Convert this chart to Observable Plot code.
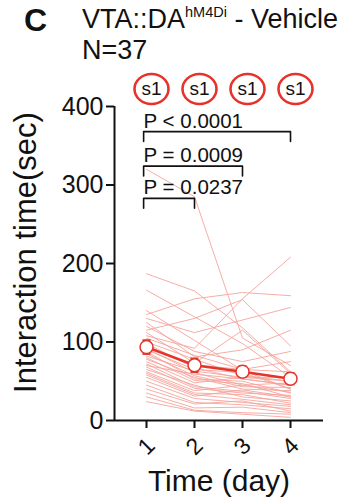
<!DOCTYPE html>
<html>
<head>
<meta charset="utf-8">
<script src="https://cdn.jsdelivr.net/npm/d3@7"></script>
<script src="https://cdn.jsdelivr.net/npm/@observablehq/plot@0.6"></script>
<style>
  html, body { margin: 0; padding: 0; background: #fff; }
  body { width: 348px; height: 501px; overflow: hidden; font-family: "Liberation Sans", Arial, Helvetica, sans-serif; color: #111; }
  #wrap { position: relative; width: 348px; height: 501px; }
  .t { position: absolute; white-space: nowrap; line-height: 1; }
  #panel { left: 24px; top: 4px; font-size: 32px; font-weight: bold; }
  #title { left: 82px; top: 6px; font-size: 27px; }
  #title sup { font-size: 14.5px; vertical-align: 0; position: relative; top: -11px; }
  #n { left: 82px; top: 37px; font-size: 27px; }
  #chart { position: absolute; left: 0; top: 0; }
</style>
</head>
<body>
<div id="wrap">
  <div id="chart"></div>
  <div class="t" id="panel">C</div>
  <div class="t" id="title">VTA::DA<sup>hM4Di</sup> - Vehicle</div>
  <div class="t" id="n">N=37</div>
</div>
<script>
// ---- data ----
const days = [1, 2, 3, 4];
const dayLabels = ["1", "2", "3", "4"];
const sessionLabels = ["s1", "s1", "s1", "s1"];
const day1 = [320,187,166,135,140,115,108,130,125,120,112,105,100,98,95,92,90,88,85,82,80,78,75,72,70,68,65,62,60,58,55,50,45,40,35,30,24];
const day2 = [285,165,132,155,102,130,92,112,81,88,73,83,78,67,71,61,65,53,57,63,51,55,48,43,59,41,45,38,35,33,31,28,23,21,16,13,12];
const day3 = [105,118,98,163,64,154,155,128,90,75,115,65,57,53,65,45,61,50,43,55,47,40,55,37,53,35,30,45,33,27,39,23,20,25,17,10,8];
const day4 = [70,62,55,159,40,95,208,144,115,88,60,75,50,45,62,48,40,35,42,55,30,38,50,28,45,32,25,36,22,20,30,18,15,12,10,8,4];
const comparisons = [[1, 4, "P < 0.0001"], [1, 3, "P = 0.0009"], [1, 2, "P = 0.0237"]];
const yTicks = [0, 100, 200, 300, 400];

// ---- build tables ----
const byDay = [day1, day2, day3, day4];
const table = day1.flatMap((_, i) => days.map((d, j) => ({id: i, day: d, value: byDay[j][i]})));
const stats = days.map((d, j) => {
  const v = byDay[j];
  const m = d3.mean(v);
  const se = d3.deviation(v) / Math.sqrt(v.length);
  return {day: d, mean: m, lo: m - se, hi: m + se};
});
const bracketLevels = [368, 324, 283];
const legLen = 12.5;
const bracketPts = comparisons.flatMap(([a, b, label], k) => {
  const y = bracketLevels[k], x1 = a - 0.06, x2 = b;
  return [
    {k, x: x1, y: y - legLen}, {k, x: x1, y}, {k, x: x2, y}, {k, x: x2, y: y - legLen}
  ];
});
const bracketText = comparisons.map(([a, b, label], k) => ({x: a - 0.06, y: bracketLevels[k], label}));

const RED = "#e5342a";
const ellipse = {
  draw(ctx) {
    const rx = 17, ry = 15, k = 0.5523;
    ctx.moveTo(rx, 0);
    ctx.bezierCurveTo(rx, ry * k, rx * k, ry, 0, ry);
    ctx.bezierCurveTo(-rx * k, ry, -rx, ry * k, -rx, 0);
    ctx.bezierCurveTo(-rx, -ry * k, -rx * k, -ry, 0, -ry);
    ctx.bezierCurveTo(rx * k, -ry, rx, -ry * k, rx, 0);
    ctx.closePath();
  }
};
const capSym = { draw(ctx) { ctx.moveTo(-4, 0); ctx.lineTo(4, 0); } };

const xDomain = [1/3, 4.6875];

const chart = Plot.plot({
  width: 348,
  height: 501,
  marginTop: 106,
  marginBottom: 81,
  marginLeft: 114,
  marginRight: 25,
  x: {domain: xDomain, axis: null},
  y: {domain: [0, 400], axis: null},
  style: {fontFamily: '"Liberation Sans", Arial, Helvetica, sans-serif', color: "#111", background: "transparent", overflow: "visible"},
  marks: [
    // individual subjects
    Plot.line(table, {x: "day", y: "value", z: "id", stroke: "#f5a49c", strokeWidth: 1, strokeOpacity: 0.9}),
    // axes
    Plot.ruleX([xDomain[0]], {y1: 0, y2: 400, strokeWidth: 2}),
    Plot.ruleY([0], {strokeWidth: 2}),
    Plot.axisY({ticks: yTicks, tickSize: 8, tickPadding: 3, fontSize: 25, strokeWidth: 2, label: null, tickFormat: d => String(d)}),
    Plot.axisX({ticks: days, tickSize: 8, strokeWidth: 2, label: null, tickFormat: () => ""}),
    Plot.text(days, {x: d => d, text: (d, i) => dayLabels[i], frameAnchor: "bottom", dy: 26, rotate: -45, fontSize: 23, lineAnchor: "middle", textAnchor: "middle"}),
    Plot.text(["Time (day)"], {frameAnchor: "bottom", dy: 70, lineAnchor: "bottom", textAnchor: "middle", fontSize: 30}),
    Plot.text(["Interaction time(sec)"], {frameAnchor: "left", dx: -88, dy: -11, rotate: -90, lineAnchor: "middle", textAnchor: "middle", fontSize: 31}),
    // mean ± SEM
    Plot.ruleX(stats, {x: "day", y1: "lo", y2: "hi", stroke: RED, strokeWidth: 2}),
    Plot.dot(stats, {x: "day", y: "lo", symbol: capSym, stroke: RED, strokeWidth: 2}),
    Plot.dot(stats, {x: "day", y: "hi", symbol: capSym, stroke: RED, strokeWidth: 2}),
    Plot.line(stats, {x: "day", y: "mean", stroke: RED, strokeWidth: 2.5}),
    Plot.dot(stats, {x: "day", y: "mean", r: 6.5, fill: "white", stroke: RED, strokeWidth: 1.5}),
    // significance brackets
    Plot.line(bracketPts, {x: "x", y: "y", z: "k", stroke: "#111", strokeWidth: 1.6}),
    Plot.text(bracketText, {x: "x", y: "y", text: "label", dy: -4, textAnchor: "start", lineAnchor: "bottom", fontSize: 20.5, fill: "#111"}),
    // session circles
    Plot.dot(days, {x: d => d, frameAnchor: "top", dx: 5, dy: -17.5, symbol: ellipse, stroke: RED, strokeWidth: 2.6, fill: "white"}),
    Plot.text(days, {x: d => d, text: (d, i) => sessionLabels[i], frameAnchor: "top", dx: 5, dy: -17.5, lineAnchor: "middle", textAnchor: "middle", fontSize: 19, fill: "#111"})
  ]
});
document.getElementById("chart").appendChild(chart);
</script>
</body>
</html>
